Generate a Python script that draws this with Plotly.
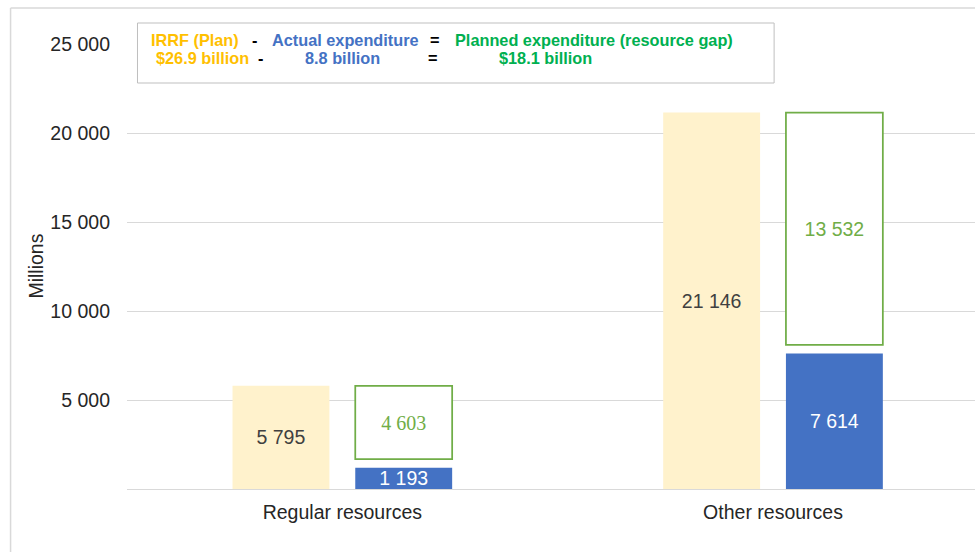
import plotly.graph_objects as go

# ---- data ----
categories = ["Regular resources", "Other resources"]
irrf_plan = [5795, 21146]
actual_expenditure = [1193, 7614]
resource_gap = [4603, 13532]
y_ticks = [5000, 10000, 15000, 20000, 25000]

legend_line1 = ["IRRF (Plan)", "-", "Actual expenditure", "=", "Planned expenditure (resource gap)"]
legend_line2 = ["$26.9 billion", "-", "8.8 billion", "=", "$18.1 billion"]


def fmt(v):
    return f"{v:,}".replace(",", " ")


# ---- geometry helpers (pixel -> paper) ----
W, H = 975, 552
L, R, T, B = 126.5, 0, 44, 63
pw = W - L - R
ph = H - T - B


def px(x):
    return (x - L) / pw


def py(y):
    return (H - B - y) / ph


YEL = "#FFF2CC"
BLUE = "#4472C4"
GREEN_LINE = "#70AD47"
FONT = "Liberation Sans, Arial, sans-serif"
FS = 19.5

fig = go.Figure()

fig.add_trace(go.Bar(
    x=categories, y=irrf_plan, offset=-0.255, width=0.225,
    marker=dict(color=YEL, line=dict(width=0)),
    text=[fmt(v) for v in irrf_plan], textposition="inside",
    insidetextanchor="middle", constraintext="none",
    textfont=dict(color="#404040", size=FS, family=FONT),
    hoverinfo="skip",
))

fig.add_trace(go.Bar(
    x=categories, y=actual_expenditure, offset=0.03, width=0.225,
    marker=dict(color=BLUE, line=dict(width=0)),
    text=[fmt(v) for v in actual_expenditure], textposition="inside",
    insidetextanchor="middle", constraintext="none",
    textfont=dict(color="white", size=FS, family=FONT),
    hoverinfo="skip",
))

gap_pad = 480
gap_base = [a + gap_pad for a in actual_expenditure]
gap_height = [p - b for p, b in zip(irrf_plan, gap_base)]
fig.add_trace(go.Bar(
    x=categories, y=gap_height, base=gap_base, offset=0.03, width=0.225,
    marker=dict(color="white", line=dict(color=GREEN_LINE, width=1.75)),
    text=[fmt(v) for v in resource_gap], textposition="inside",
    insidetextanchor="middle", constraintext="none",
    textfont=dict(color=GREEN_LINE, size=[20, FS],
                  family=["Liberation Serif, Times New Roman, serif", FONT]),
    hoverinfo="skip",
))

shapes = [
    # chart border (left and top)
    dict(type="line", xref="paper", yref="paper", x0=px(10), x1=px(10),
         y0=py(8), y1=py(600), line=dict(color="#D9D9D9", width=1.5)),
    dict(type="line", xref="paper", yref="paper", x0=px(10), x1=px(1000),
         y0=py(8), y1=py(8), line=dict(color="#D9D9D9", width=1.5)),
    # legend box
    dict(type="rect", xref="paper", yref="paper", x0=px(137), x1=px(774),
         y0=py(83), y1=py(23), fillcolor="white",
         line=dict(color="#BFBFBF", width=1), layer="above"),
]

colors = ["#FFC000", "black", BLUE, "black", "#00B050"]
line1_x = [(149, "left"), (254, "center"), (270, "left"), (435, "center"), (453, "left")]
line2_x = [(154, "left"), (260, "center"), (303, "left"), (433, "center"), (497, "left")]

annotations = []
for txt, col, (x, anc) in zip(legend_line1, colors, line1_x):
    annotations.append(dict(
        text=f"<b>{txt}</b>", x=px(x), y=py(40), xref="paper", yref="paper",
        xanchor=anc, yanchor="middle", showarrow=False,
        font=dict(family=FONT, size=16.3, color=col)))
for txt, col, (x, anc) in zip(legend_line2, colors, line2_x):
    annotations.append(dict(
        text=f"<b>{txt}</b>", x=px(x), y=py(58), xref="paper", yref="paper",
        xanchor=anc, yanchor="middle", showarrow=False,
        font=dict(family=FONT, size=16.3, color=col)))

annotations.append(dict(
    text="Millions", x=px(35), y=py(266), xref="paper", yref="paper",
    xanchor="center", yanchor="middle", textangle=-90, showarrow=False,
    font=dict(family=FONT, size=FS, color="#262626")))

fig.update_layout(
    width=W, height=H,
    margin=dict(l=L, r=R, t=T, b=B, pad=0),
    paper_bgcolor="white", plot_bgcolor="white",
    barmode="overlay", showlegend=False,
    font=dict(family=FONT, size=FS, color="#262626"),
    shapes=shapes, annotations=annotations,
    xaxis=dict(type="category", range=[-0.5, 1.469], ticks="",
               showline=True, linecolor="#D9D9D9", linewidth=1,
               showgrid=False, tickfont=dict(size=FS, color="#262626"),
               ticklabelstandoff=6, fixedrange=True),
    yaxis=dict(range=[0, 25000], tickvals=y_ticks,
               ticktext=[fmt(v) for v in y_ticks], ticks="",
               showgrid=True, gridcolor="#D9D9D9", gridwidth=1,
               zeroline=False, showline=False,
               tickfont=dict(size=FS, color="#262626"),
               ticklabelstandoff=16, fixedrange=True),
)

fig.write_html("out.html", config={"displayModeBar": False})
